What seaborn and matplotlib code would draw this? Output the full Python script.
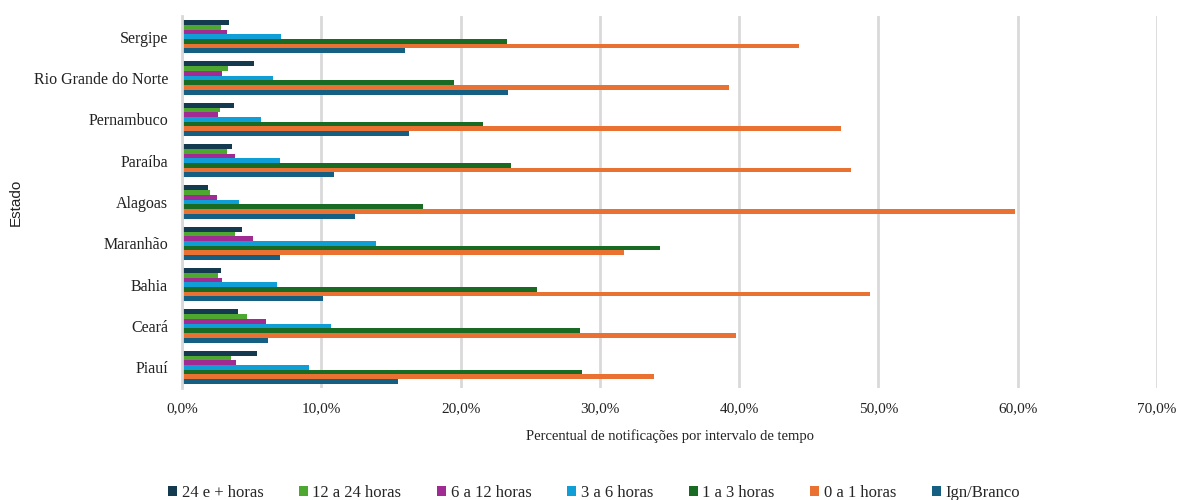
import matplotlib
matplotlib.use("Agg")
import matplotlib.pyplot as plt
import matplotlib.ticker as mticker
from matplotlib.patches import Patch
import seaborn as sns
import pandas as pd

# States, top to bottom
estados = ["Sergipe", "Rio Grande do Norte", "Pernambuco", "Paraíba", "Alagoas",
           "Maranhão", "Bahia", "Ceará", "Piauí"]

# Time intervals (legend order)
intervalos = ["24 e + horas", "12 a 24 horas", "6 a 12 horas", "3 a 6 horas",
              "1 a 3 horas", "0 a 1 horas", "Ign/Branco"]

# Percentage of notifications per interval, one list per interval (same state order)
h24_mais = [3.4, 5.2, 3.7, 3.6, 1.9, 4.3, 2.8, 4.0, 5.4]
h12_24 = [2.8, 3.3, 2.7, 3.2, 2.0, 3.8, 2.6, 4.7, 3.5]
h6_12 = [3.2, 2.9, 2.6, 3.8, 2.5, 5.1, 2.9, 6.0, 3.9]
h3_6 = [7.1, 6.5, 5.7, 7.0, 4.1, 13.9, 6.8, 10.7, 9.1]
h1_3 = [23.3, 19.5, 21.6, 23.6, 17.3, 34.3, 25.5, 28.6, 28.7]
h0_1 = [44.3, 39.3, 47.3, 48.0, 59.8, 31.7, 49.4, 39.8, 33.9]
ign_branco = [16.0, 23.4, 16.3, 10.9, 12.4, 7.0, 10.1, 6.2, 15.5]

cores = ["#133A4E", "#4EA72E", "#A02B93", "#0F9ED5", "#196B24", "#E97132", "#156082"]

series = [h24_mais, h12_24, h6_12, h3_6, h1_3, h0_1, ign_branco]
rows = []
for nome, valores in zip(intervalos, series):
    for estado, v in zip(estados, valores):
        rows.append({"Estado": estado, "Intervalo": nome, "Percentual": v})
df = pd.DataFrame(rows)

sns.set_theme(style="white")
plt.rcParams["font.family"] = ["Liberation Serif", "DejaVu Serif"]

fig = plt.figure(figsize=(11.8, 5.0), dpi=100)
ax = fig.add_axes([182 / 1180, 1 - 388 / 500, (1157 - 182) / 1180, (388 - 16) / 500])

sns.barplot(data=df, y="Estado", x="Percentual", hue="Intervalo",
            order=estados, hue_order=intervalos, palette=cores,
            orient="h", width=0.8, saturation=1, errorbar=None,
            linewidth=0, ax=ax, legend=False)

ax.set_xlim(0, 70)
ax.xaxis.set_major_locator(mticker.MultipleLocator(10))
ax.xaxis.set_major_formatter(
    mticker.FuncFormatter(lambda v, _: f"{v:.1f}%".replace(".", ",")))
ax.grid(axis="x", color="#d9d9d9", linewidth=2)
ax.set_axisbelow(True)
for s in ["top", "right", "bottom"]:
    ax.spines[s].set_visible(False)
ax.spines["left"].set_color("#d9d9d9")
ax.spines["left"].set_linewidth(2)

ax.tick_params(axis="y", length=0, pad=10, labelsize=11.5, colors="#222222")
ax.tick_params(axis="x", length=0, pad=10, labelsize=11, colors="#222222")

ax.set_xlabel("Percentual de notificações por intervalo de tempo",
              fontsize=10.5, color="#222222", labelpad=10)
ax.set_ylabel("Estado", fontsize=11, color="#222222",
              family=["Liberation Sans", "DejaVu Sans"])
ax.yaxis.set_label_coords(-159 / 975, 0.5)

handles = [Patch(facecolor=c, edgecolor="none") for c in cores]
fig.legend(handles, intervalos, loc="center", bbox_to_anchor=(594 / 1180, 1 - 493 / 500),
           ncol=7, frameon=False, fontsize=12, handlelength=0.55, handleheight=0.55,
           handletextpad=0.25, columnspacing=2.15)

fig.savefig("out.png", dpi=100)
